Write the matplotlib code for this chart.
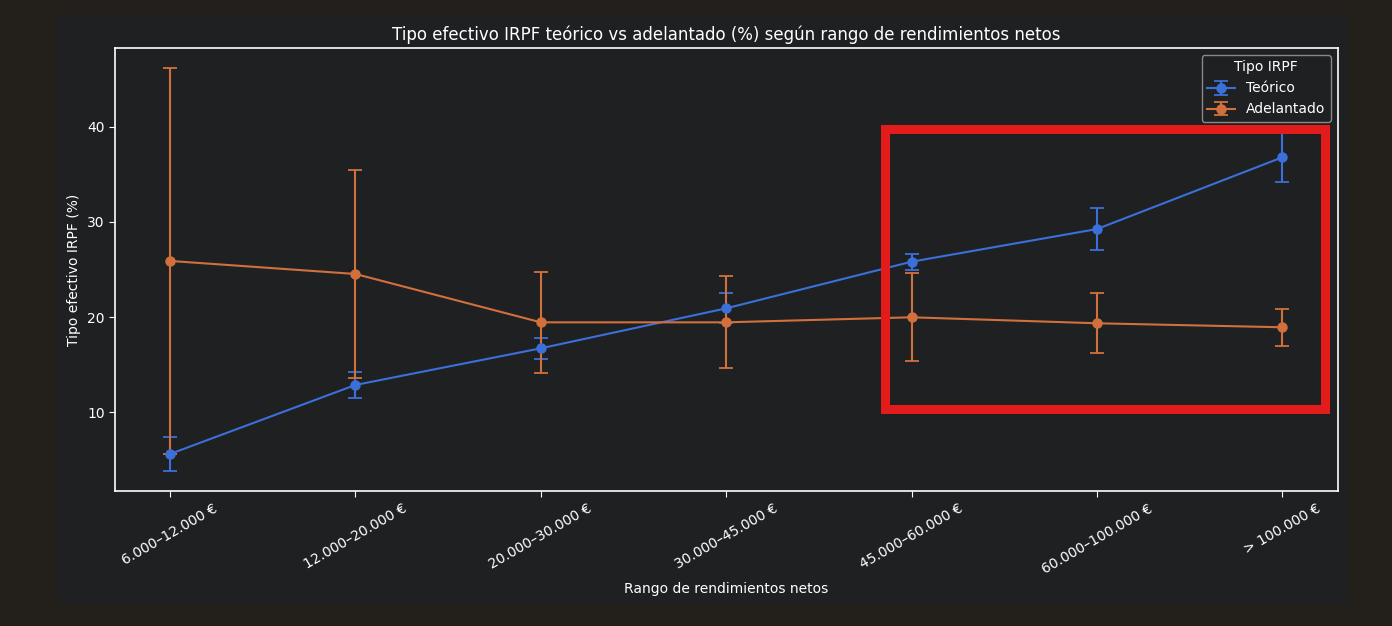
import matplotlib
matplotlib.use("Agg")
import matplotlib.pyplot as plt
from matplotlib.patches import Rectangle
import numpy as np

categories = ["6.000–12.000 €", "12.000–20.000 €", "20.000–30.000 €", "30.000–45.000 €",
              "45.000–60.000 €", "60.000–100.000 €", "> 100.000 €"]
teorico = [5.62, 12.87, 16.72, 20.92, 25.82, 29.25, 36.79]
teorico_err = [1.83, 1.38, 1.10, 1.57, 0.83, 2.2, 2.55]
adelantado = [25.9, 24.53, 19.45, 19.45, 19.98, 19.35, 18.93]
adelantado_err = [20.3, 10.97, 5.3, 4.83, 4.6, 3.15, 1.95]

outer_bg = "#231f1b"
panel_bg = "#1f2022"
fg = "#ffffff"
blue = "#3b6fd9"
orange = "#d2703d"

plt.rcParams['font.family'] = ['DejaVu Sans']
fig = plt.figure(figsize=(13.92, 6.26), dpi=100, facecolor=outer_bg)
fig.patches.append(Rectangle((57/1392, 1 - 604/626), (1348-57)/1392, (604-15)/626,
                             transform=fig.transFigure, facecolor=panel_bg, edgecolor='none', zorder=-10))
ax = fig.add_axes([115/1392, 1 - 491/626, (1338-115)/1392, (491-48)/626])
ax.set_facecolor(panel_bg)

x = np.arange(len(categories))
ax.errorbar(x, teorico, yerr=teorico_err, color=blue, marker='o', markersize=6.5,
            linewidth=1.5, capsize=5, elinewidth=1.5, capthick=1.3, label="Teórico")
ax.errorbar(x, adelantado, yerr=adelantado_err, color=orange, marker='o', markersize=6.5,
            linewidth=1.5, capsize=5, elinewidth=1.5, capthick=1.3, label="Adelantado")

ax.set_xlim(-0.297, 6.30)
ax.set_ylim(1.73, 48.27)
ax.set_xticks(x)
ax.set_xticklabels(categories, rotation=30, ha='center', rotation_mode='default')
ax.set_yticks([10, 20, 30, 40])
ax.tick_params(colors=fg, labelsize=10, length=4)
for s in ax.spines.values():
    s.set_color(fg)
    s.set_linewidth(1.2)

ax.set_title("Tipo efectivo IRPF teórico vs adelantado (%) según rango de rendimientos netos",
             color=fg, fontsize=12, pad=5.5)
ax.set_xlabel("Rango de rendimientos netos", color=fg, fontsize=10)
ax.set_ylabel("Tipo efectivo IRPF (%)", color=fg, fontsize=10)

leg = ax.legend(title="Tipo IRPF", loc='upper right', facecolor=panel_bg, edgecolor="#888888",
                fontsize=10, title_fontsize=10, framealpha=1)
for t in leg.get_texts():
    t.set_color(fg)
leg.get_title().set_color(fg)

ax.add_patch(Rectangle((3.859, 10.3), 6.229 - 3.859, 39.73 - 10.3, fill=False,
                       edgecolor="#e31b1b", linewidth=6.5, zorder=10, clip_on=False))

fig.savefig("out.png", dpi=100, facecolor=outer_bg)
